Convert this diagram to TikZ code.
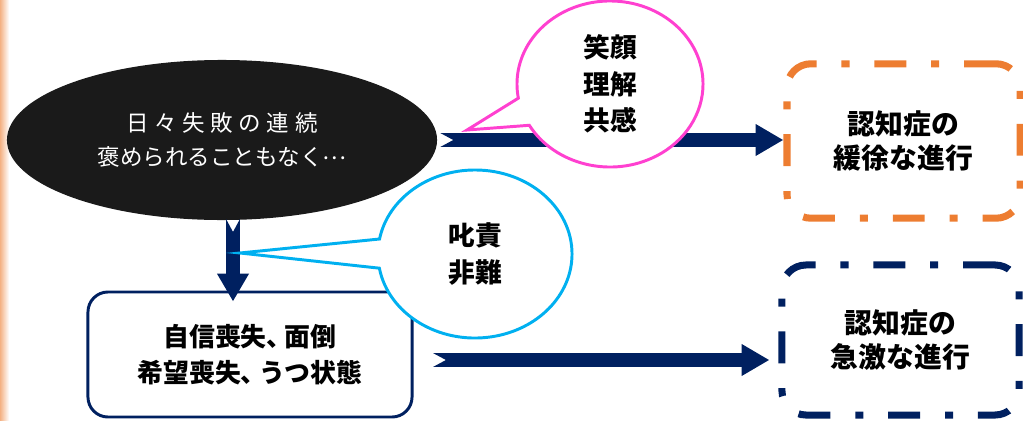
\documentclass[tikz,border=0pt]{standalone}
\usepackage{fontspec}
\setmainfont{Noto Sans CJK JP}
\usetikzlibrary{arrows.meta,calc,shapes.geometric,shapes.callouts}
\definecolor{navy}{HTML}{002060}
\definecolor{dashorange}{HTML}{ED7D31}
\definecolor{bubblepink}{HTML}{FF40D0}
\definecolor{bubbleblue}{HTML}{00B0F0}
\definecolor{nearblack}{HTML}{1A1A1A}
\definecolor{stripe}{HTML}{F4B183}
\begin{document}
\begin{tikzpicture}[x=0.025cm,y=-0.025cm,
  fat/.style={navy,line width=9.9pt,{Triangle Cap[reversed,length=9.2pt]}-{Triangle[length=19.8pt,width=21.3pt]}},
  dashbox/.style={rounded corners=0.6cm,line width=5pt,dash pattern=on 22.7pt off 17.7pt on 5.7pt off 17.7pt,align=center,font=\fontsize{19.8}{24.8}\selectfont\bfseries},
  bubble/.style={ellipse callout,fill=white,line width=2.1pt,inner sep=0pt,callout pointer arc=20,align=center,font=\fontsize{19}{26}\selectfont\bfseries}]
\useasboundingbox (0,0) rectangle (1023,420);
\shade[left color=stripe,right color=white] (0,0) rectangle (9,420);
% boxes
\node[ellipse,fill=nearblack,text=white,minimum width=10.75cm,minimum height=4cm,inner sep=0pt,align=center,font=\fontsize{16}{24.8}\selectfont] (blk) at (222,140)
  {日\hspace{4pt}々\hspace{4pt}失\hspace{4pt}敗\hspace{4pt}の\hspace{4pt}連\hspace{4pt}続\\褒められることもなく\raisebox{0.3em}{…}};
\node[draw=navy,line width=2.1pt,rounded corners=0.5cm,minimum width=8.1cm,minimum height=3.125cm,align=center,font=\fontsize{18.4}{25.5}\selectfont\bfseries] (low) at (250,354.5)
  {自信喪失、\kern-0.3em 面倒\\希望喪失、\kern-0.3em うつ状態};
\node[dashbox,draw=dashorange,minimum width=5.825cm,minimum height=3.86cm] (slow) at (903.5,141) {認知症の\\緩徐な進行};
\node[dashbox,draw=navy,minimum width=5.925cm,minimum height=3.75cm] (fast) at (900.5,340) {認知症の\\急激な進行};
% arrows
\draw[fat,shorten <=0.075cm] (blk.east) -- (blk.east -| slow.west);
\coordinate (d0) at (233,219);
\draw[fat] (d0) -- ($(d0 |- low.north)+(0,11)$);
\coordinate (b0) at (433,360);
\draw[fat,shorten >=0.225cm] (b0) -- (b0 -| fast.west);
% callouts
\coordinate (pk) at (467,130);
\coordinate (bl) at (240,253);
\node[bubble,draw=bubblepink,minimum width=4.65cm,minimum height=4.15cm,callout absolute pointer={(pk)}] (kind) at (610,84) {笑顔\\理解\\共感};
\node[bubble,draw=bubbleblue,minimum width=4.85cm,minimum height=4.2cm,callout absolute pointer={(bl)}] (blame) at (475,254) {叱責\\非難};
\end{tikzpicture}
\end{document}
